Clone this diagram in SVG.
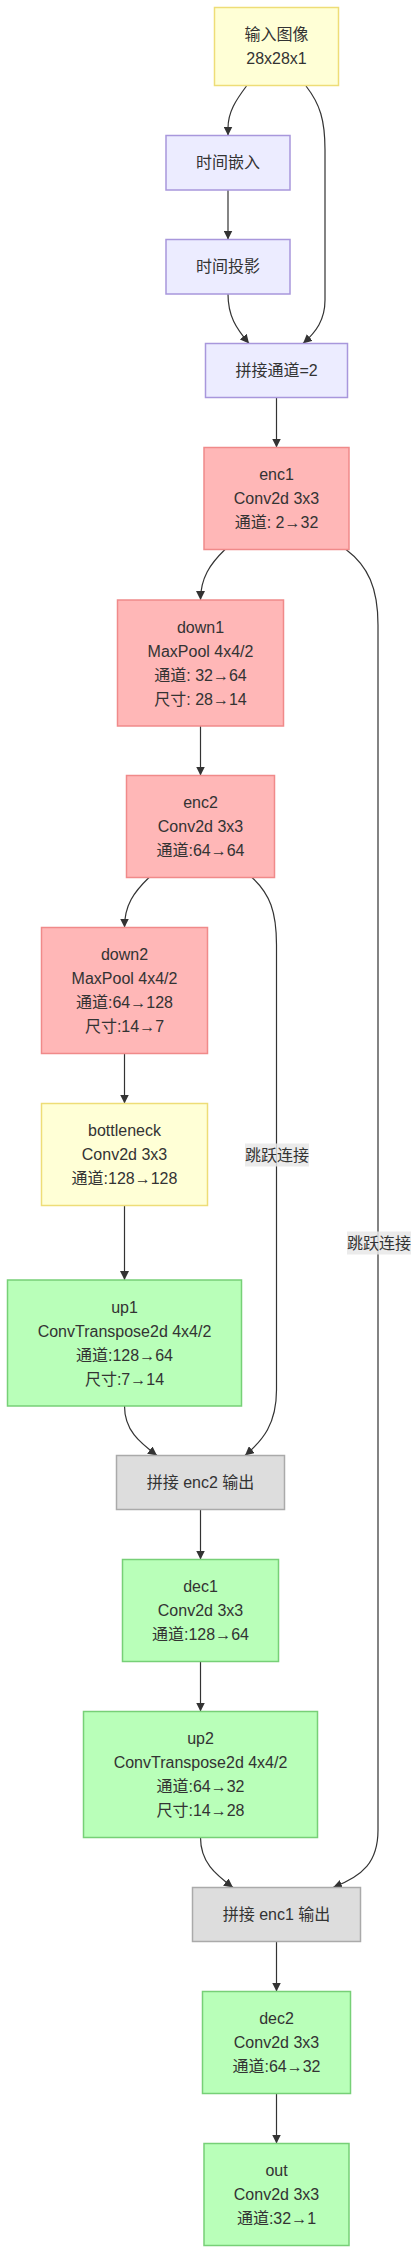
<svg xmlns="http://www.w3.org/2000/svg" width="419" height="2254" viewBox="0 0 419 2254">
<style>
text{font-family:"Liberation Sans",Arial,"Noto Sans CJK SC",sans-serif;font-size:16px;fill:#333;text-anchor:middle}
.yel{fill:#ffffd6;stroke:#eedd77;stroke-width:1.5}
.pur{fill:#ececff;stroke:#a897dc;stroke-width:1.5}
.red{fill:#ffb7b7;stroke:#f08a8a;stroke-width:1.5}
.grn{fill:#b9ffb9;stroke:#77d077;stroke-width:1.5}
.gry{fill:#dddddd;stroke:#aaaaaa;stroke-width:1.5}
.edge{fill:none;stroke:#333;stroke-width:1.2;marker-end:url(#arr)}
.lbg{fill:#e8e8e8;opacity:0.85}
</style>
<defs>
<marker id="arr" viewBox="0 0 10 10" refX="10" refY="5" markerWidth="9" markerHeight="9" markerUnits="userSpaceOnUse" orient="auto">
<path d="M0,0 L10,5 L0,10 z" fill="#333"/>
</marker>
</defs>
<g id="edges">
<path class="edge" d="M246.5,86 C236,100 228,112 228,128 L228,135.5"/>
<path class="edge" d="M306,86 C320,104 325,120 325,150 L325,300 C325,320 316,332 303,343.5"/>
<path class="edge" d="M228,190 L228,239.5"/>
<path class="edge" d="M228,294 C228,316 236,328 249,343.5"/>
<path class="edge" d="M276.5,397.5 L276.5,447.5"/>
<path class="edge" d="M225,549.5 C210,564 200.5,578 200.5,600"/>
<path class="edge" d="M346,549.5 C368,566 378,588 378,625 L378,1830 C378,1862 363,1876 333,1887.5"/>
<path class="edge" d="M200.5,726 L200.5,775.5"/>
<path class="edge" d="M149,877.5 C134,892 124.5,905 124.5,927.5"/>
<path class="edge" d="M252,877.5 C270,894 276.5,912 276.5,945 L276.5,1390 C276.5,1424 263,1440 245,1455.5"/>
<path class="edge" d="M124.5,1053.5 L124.5,1103.5"/>
<path class="edge" d="M124.5,1205.5 L124.5,1280"/>
<path class="edge" d="M124.5,1406 C124.5,1430 139,1442 157,1455.5"/>
<path class="edge" d="M200.5,1509.5 L200.5,1559.5"/>
<path class="edge" d="M200.5,1661.5 L200.5,1711.5"/>
<path class="edge" d="M200.5,1837.5 C200.5,1862 215,1874 233,1887.5"/>
<path class="edge" d="M276.5,1941.5 L276.5,1991.5"/>
<path class="edge" d="M276.5,2093.5 L276.5,2143.5"/>
<rect class="lbg" x="245" y="1143.5" width="64" height="23"/>
<text x="277" y="1160.5">跳跃连接</text>
<rect class="lbg" x="347" y="1231.5" width="64" height="23"/>
<text x="379" y="1248.5">跳跃连接</text>
</g>
<g id="input"><rect class="yel" x="214.5" y="7.5" width="124" height="78"/><text x="276.5" y="40">输入图像</text><text x="276.5" y="64">28x28x1</text></g>
<g id="embed"><rect class="pur" x="166" y="135.5" width="124" height="54.5"/><text x="228" y="168">时间嵌入</text></g>
<g id="proj"><rect class="pur" x="166" y="239.5" width="124" height="54.5"/><text x="228" y="272">时间投影</text></g>
<g id="concat0"><rect class="pur" x="205.5" y="343.5" width="142" height="54"/><text x="276.5" y="376">拼接通道=2</text></g>
<g id="enc1"><rect class="red" x="204" y="447.5" width="145" height="102"/><text x="276.5" y="480">enc1</text><text x="276.5" y="504">Conv2d 3x3</text><text x="276.5" y="528">通道: 2→32</text></g>
<g id="down1"><rect class="red" x="117.5" y="600" width="166" height="126"/><text x="200.5" y="632.5">down1</text><text x="200.5" y="656.5">MaxPool 4x4/2</text><text x="200.5" y="680.5">通道: 32→64</text><text x="200.5" y="704.5">尺寸: 28→14</text></g>
<g id="enc2"><rect class="red" x="126.5" y="775.5" width="148" height="102"/><text x="200.5" y="808">enc2</text><text x="200.5" y="832">Conv2d 3x3</text><text x="200.5" y="856">通道:64→64</text></g>
<g id="down2"><rect class="red" x="41.5" y="927.5" width="166" height="126"/><text x="124.5" y="960">down2</text><text x="124.5" y="984">MaxPool 4x4/2</text><text x="124.5" y="1008">通道:64→128</text><text x="124.5" y="1032">尺寸:14→7</text></g>
<g id="bottleneck"><rect class="yel" x="41.5" y="1103.5" width="166" height="102"/><text x="124.5" y="1136">bottleneck</text><text x="124.5" y="1160">Conv2d 3x3</text><text x="124.5" y="1184">通道:128→128</text></g>
<g id="up1"><rect class="grn" x="7.5" y="1280" width="234" height="126"/><text x="124.5" y="1312.5">up1</text><text x="124.5" y="1336.5">ConvTranspose2d 4x4/2</text><text x="124.5" y="1360.5">通道:128→64</text><text x="124.5" y="1384.5">尺寸:7→14</text></g>
<g id="concat2"><rect class="gry" x="116.5" y="1455.5" width="168" height="54"/><text x="200.5" y="1488">拼接 enc2 输出</text></g>
<g id="dec1"><rect class="grn" x="122.5" y="1559.5" width="156" height="102"/><text x="200.5" y="1592">dec1</text><text x="200.5" y="1616">Conv2d 3x3</text><text x="200.5" y="1640">通道:128→64</text></g>
<g id="up2"><rect class="grn" x="83.5" y="1711.5" width="234" height="126"/><text x="200.5" y="1744">up2</text><text x="200.5" y="1768">ConvTranspose2d 4x4/2</text><text x="200.5" y="1792">通道:64→32</text><text x="200.5" y="1816">尺寸:14→28</text></g>
<g id="concat1"><rect class="gry" x="192.5" y="1887.5" width="168" height="54"/><text x="276.5" y="1920">拼接 enc1 输出</text></g>
<g id="dec2"><rect class="grn" x="202.5" y="1991.5" width="148" height="102"/><text x="276.5" y="2024">dec2</text><text x="276.5" y="2048">Conv2d 3x3</text><text x="276.5" y="2072">通道:64→32</text></g>
<g id="out"><rect class="grn" x="204" y="2143.5" width="145" height="102"/><text x="276.5" y="2176">out</text><text x="276.5" y="2200">Conv2d 3x3</text><text x="276.5" y="2224">通道:32→1</text></g>
</svg>
